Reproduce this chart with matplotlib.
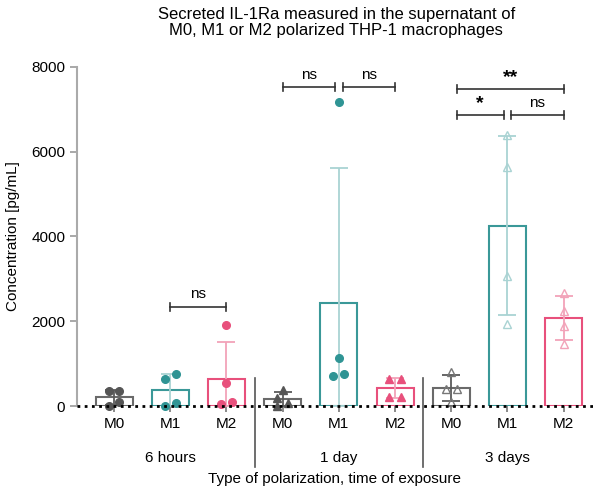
import matplotlib
matplotlib.use("Agg")
import matplotlib.pyplot as plt
import matplotlib.transforms as mtransforms
import numpy as np

plt.rcParams['font.family'] = ['Liberation Sans', 'DejaVu Sans']

# data (pg/mL)
times = ["6 hours", "1 day", "3 days"]
types = ["M0", "M1", "M2"]
h6_m0 = [360, 360, 100, 0]
h6_m1 = [645, 762, 78, 0]
h6_m2 = [1911, 535, 94, 40]
d1_m0 = [377, 180, 64, 0]
d1_m1 = [7180, 1125, 708, 755]
d1_m2 = [630, 630, 220, 220]
d3_m0 = [810, 401, 401, 87]
d3_m1 = [6395, 5633, 3068, 1927]
d3_m2 = [2674, 2249, 1895, 1456]
groups = [h6_m0, h6_m1, h6_m2, d1_m0, d1_m1, d1_m2, d3_m0, d3_m1, d3_m2]

# significance: (left bar, right bar, level in pg/mL, label)
sig = [(1, 2, 2340, "ns"),
       (3, 4, 7520, "ns"), (4, 5, 7520, "ns"),
       (6, 7, 6860, "*"), (7, 8, 6860, "ns"), (6, 8, 7480, "**")]

edge = {"M0": "#6a6a6a", "M1": "#3a9898", "M2": "#e8507c"}
errc = {"M0": "#5a5a5a", "M1": "#a9d3d3", "M2": "#f2a3b9"}
dotc = {"M0": "#555555", "M1": "#2f9494", "M2": "#e8507c"}
# marker style per bar: filled circle, filled triangle, open triangle
mk = ["o", "o", "o", "^", "o", "^", "open", "open", "open"]
jit = [[-0.09, 0.09, 0.09, -0.09], [-0.1, 0.1, 0.1, -0.1], [0.0, 0.0, 0.09, -0.09],
       [0.0, -0.1, 0.1, -0.1], [0.0, 0.0, -0.1, 0.1], [-0.1, 0.1, -0.1, 0.1],
       [0.0, -0.1, 0.1, 0.0], [0, 0, 0, 0], [0, 0, 0, 0]]

fig = plt.figure(figsize=(5.93, 4.9), dpi=100)
ax = fig.add_axes([0.1298, 0.1714, 0.870, 0.692])

x = np.arange(9)
for i, vals in enumerate(groups):
    t = types[i % 3]
    v = np.array(vals, dtype=float)
    m = v.mean()
    sd = v.std(ddof=1)
    ax.bar(x[i], m, width=0.66, facecolor="white", edgecolor=edge[t], lw=1.5, zorder=2)
    ax.errorbar(x[i], m, yerr=[[min(sd, m)], [sd]], color=errc[t], lw=1.3,
                capsize=6.5, capthick=1.3, zorder=3)
    xs = x[i] + np.array(jit[i])
    if mk[i] == "open":
        ax.plot(xs, v, ls="none", marker="^", ms=5.5, mfc="none",
                mec=errc[t] if t != "M0" else "#777777", mew=1.0, zorder=4, clip_on=False)
    else:
        ax.plot(xs, v, ls="none", marker=mk[i], ms=5.5, color=dotc[t], zorder=4, clip_on=False)

# brackets
for a, b, lev, lab in sig:
    xa, xb = x[a], x[b]
    if b - a == 1 and any(s[0] == b and s[2] == lev for s in sig):
        xb = x[b] - 0.07
    if b - a == 1 and any(s[1] == a and s[2] == lev for s in sig):
        xa = x[a] + 0.07
    if (a, b) in [(6, 7), (6, 8)]:
        xa = x[a] + 0.1
    ax.plot([xa, xb], [lev, lev], color="#333333", lw=1.2, zorder=5)
    for xx in (xa, xb):
        ax.plot([xx, xx], [lev - 90, lev + 90], color="#333333", lw=1.2, zorder=5)
    if "*" in lab:
        ax.text((xa + xb) / 2, lev + 80, lab, ha="center", va="bottom", fontsize=14, fontweight="bold")
    else:
        ax.text((xa + xb) / 2, lev + 130, lab, ha="center", va="bottom", fontsize=11)

ax.set_xlim(-0.66, 8.52)
ax.set_ylim(0, 8000)
ax.set_yticks([0, 2000, 4000, 6000, 8000])
ax.set_xticks(x)
ax.set_xticklabels(types * 3, fontsize=11)
ax.tick_params(axis="y", labelsize=11, color="#999999", length=5, width=1.2)
ax.tick_params(axis="x", length=4, width=1.2, color="#777777", pad=4)
for s in ["top", "right", "bottom"]:
    ax.spines[s].set_visible(False)
ax.spines["left"].set_color("#aaaaaa")
ax.spines["left"].set_linewidth(1.5)
ax.axhline(0, color="black", lw=2, ls=(0, (1, 1.6)), zorder=6, clip_on=False)

trans = mtransforms.blended_transform_factory(ax.transData, ax.transAxes)
for sx in (2.5, 5.5):
    ax.plot([sx, sx], [-0.180, 0.083], color="#555555", lw=1.2, transform=trans, clip_on=False)
for g, name in enumerate(times):
    ax.text(3 * g + 1, -0.153, name, ha="center", va="center", fontsize=11, transform=trans)

ax.set_ylabel("Concentration [pg/mL]", fontsize=11, labelpad=8)
ax.text(0.5, -0.215, "Type of polarization, time of exposure", ha="center", va="center",
        fontsize=11, transform=ax.transAxes)
fig.text(0.567, 0.985, "Secreted IL-1Ra measured in the supernatant of\nM0, M1 or M2 polarized THP-1 macrophages",
         ha="center", va="top", fontsize=12, linespacing=1.05)

fig.savefig("out.png", dpi=100)
